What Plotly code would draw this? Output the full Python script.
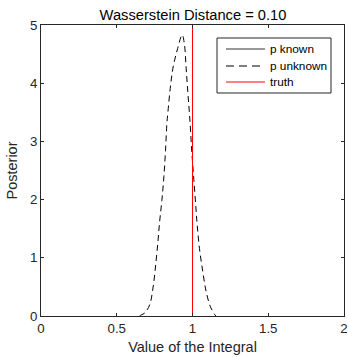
import plotly.graph_objects as go

# p unknown posterior
x_unknown = [0.650, 0.663, 0.684, 0.717, 0.739, 0.757, 0.772, 0.783, 0.798, 0.811, 0.822, 0.831,
             0.838, 0.853, 0.871, 0.899, 0.932, 0.947, 0.958, 0.969, 0.982, 0.996, 1.009,
             1.022, 1.031, 1.046, 1.068, 1.090, 1.118, 1.145, 1.155]
y_unknown = [0.00, 0.02, 0.05, 0.19, 0.48, 0.88, 1.28, 1.62, 1.99, 2.39, 2.85, 3.31,
             3.51, 3.91, 4.26, 4.57, 4.83, 4.66, 4.26, 3.85, 3.40, 2.80, 2.34,
             1.88, 1.56, 1.16, 0.76, 0.42, 0.16, 0.03, 0.00]

# p known: point mass at 1 (hidden under the truth line)
x_known = [1.0, 1.0]
y_known = [0.0, 5.0]

# truth
x_truth = [1.0, 1.0]
y_truth = [0.0, 5.0]

title_text = "Wasserstein Distance = 0.10"
x_title = "Value of the Integral"
y_title = "Posterior"
x_ticks = [0, 0.5, 1, 1.5, 2]
x_ticklabels = ["0", "0.5", "1", "1.5", "2"]
y_ticks = [0, 1, 2, 3, 4, 5]
legend_names = ["p known", "p unknown", "truth"]
legend_colors = ["#333333", "#000000", "#ff0000"]
legend_dashes = ["solid", "8px,5px", "solid"]

axis_col = "#262626"
font = "Liberation Sans, Arial, sans-serif"

W, H = 348, 357
L, R, T, B = 41, 4, 25, 41
pw, ph = W - L - R, H - T - B

def px(xp):
    return (xp - L) / pw

def py(yp):
    return (H - B - yp) / ph

fig = go.Figure()
fig.add_trace(go.Scatter(x=x_known, y=y_known, mode="lines", name=legend_names[0],
                         line=dict(color="#000000", width=0.5), showlegend=False))
fig.add_trace(go.Scatter(x=x_unknown, y=y_unknown, mode="lines", name=legend_names[1],
                         line=dict(color="#000000", width=1, dash="6px,4px", shape="spline"),
                         showlegend=False))
fig.add_trace(go.Scatter(x=x_truth, y=y_truth, mode="lines", name=legend_names[2],
                         line=dict(color="#ff0000", width=1), showlegend=False))

# legend box drawn by hand (MATLAB style)
shapes = [dict(type="rect", xref="paper", yref="paper",
               x0=px(217), x1=px(331), y0=py(93), y1=py(38),
               line=dict(color=axis_col, width=1), fillcolor="white", layer="above")]
annotations = []
row_y = [49, 66, 82]
for name, col, dash, ry in zip(legend_names, legend_colors, legend_dashes, row_y):
    shapes.append(dict(type="line", xref="paper", yref="paper",
                       x0=px(226), x1=px(265), y0=py(ry), y1=py(ry),
                       line=dict(color=col, width=1, dash=dash), layer="above"))
    annotations.append(dict(text=name, xref="paper", yref="paper", x=px(268), y=py(ry),
                            xanchor="left", yanchor="middle", showarrow=False,
                            font=dict(size=11.8, color="#000000", family=font)))

fig.update_layout(
    width=W, height=H,
    margin=dict(l=L, r=R, t=T, b=B, autoexpand=False),
    paper_bgcolor="white", plot_bgcolor="white",
    font=dict(family=font, color=axis_col, size=13),
    title=dict(text=title_text, x=px(193), xanchor="center", xref="paper",
               y=1 - 15 / H, yanchor="middle",
               font=dict(size=14.7, color="#000000")),
    showlegend=False,
    shapes=shapes,
    annotations=annotations,
)
fig.update_xaxes(range=[0, 2], tickvals=x_ticks, ticktext=x_ticklabels,
                 ticks="inside", ticklen=3, tickcolor=axis_col, mirror="allticks",
                 showline=True, linecolor=axis_col, linewidth=1, showgrid=False,
                 zeroline=False, automargin=False, ticklabeloverflow="allow",
                 title=dict(text=x_title, font=dict(size=14.5), standoff=6),
                 tickfont=dict(size=13.3))
fig.update_yaxes(range=[0, 5], tickvals=y_ticks,
                 ticks="inside", ticklen=3, tickcolor=axis_col, mirror="allticks",
                 showline=True, linecolor=axis_col, linewidth=1, showgrid=False,
                 zeroline=False, automargin=False, ticklabeloverflow="allow",
                 title=dict(text=y_title, font=dict(size=14.5), standoff=8),
                 tickfont=dict(size=13.3))

fig.write_html("out.html",
               config={"displayModeBar": False},
               post_script="document.body.style.margin='0';document.body.style.padding='0';"
                           "document.body.style.overflow='hidden';")
